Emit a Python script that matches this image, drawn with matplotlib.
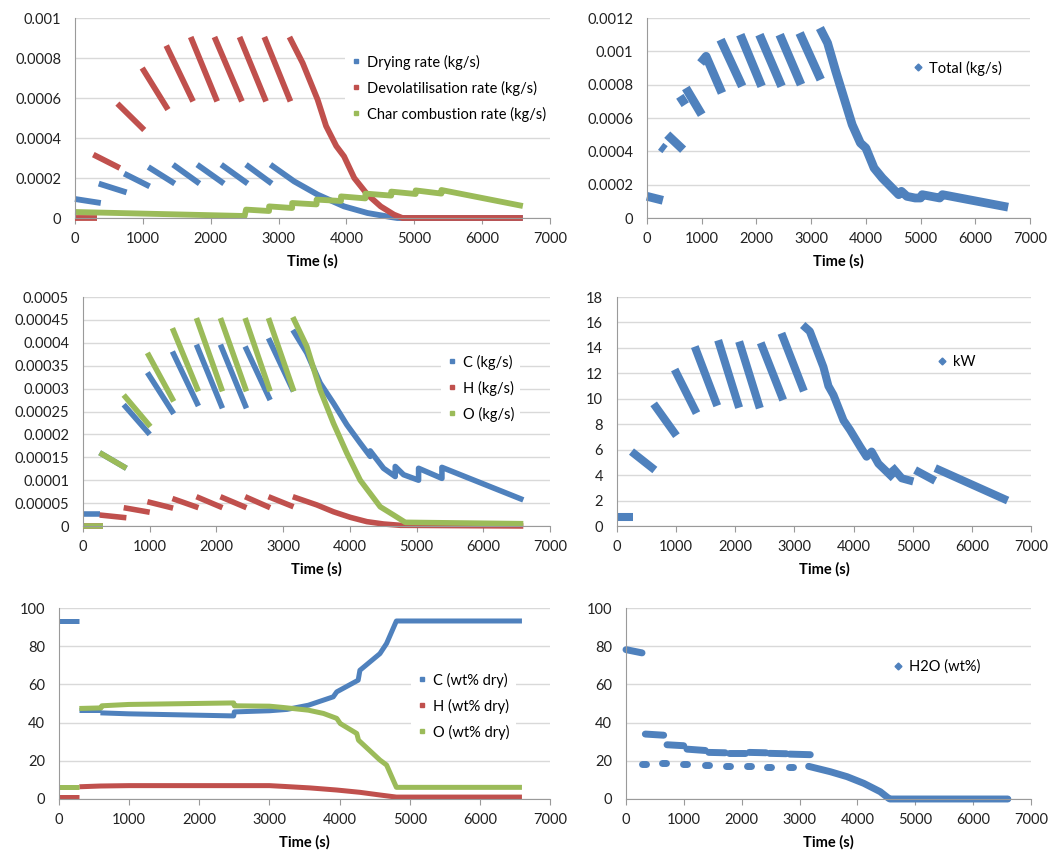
import numpy as np
import matplotlib
matplotlib.use("Agg")
import matplotlib.pyplot as plt
from matplotlib.lines import Line2D
from matplotlib.ticker import FuncFormatter

plt.rcParams['font.family'] = ['Lato', 'DejaVu Sans']

BLUE = '#4F81BD'
RED = '#C0504D'
GREEN = '#9BBB59'

# each series = list of segments, each segment = list of (time s, value)

# panel 1: rates (kg/s)
drying_rate = [
    [(0, 9.5e-5), (380, 7.5e-5)],
    [(350, 1.72e-4), (760, 1.28e-4)],
    [(725, 2.22e-4), (1100, 1.58e-4)],
    [(1080, 2.55e-4), (1470, 1.72e-4)],
    [(1445, 2.67e-4), (1835, 1.72e-4)],
    [(1800, 2.67e-4), (2195, 1.72e-4)],
    [(2155, 2.67e-4), (2545, 1.72e-4)],
    [(2520, 2.67e-4), (2900, 1.72e-4)],
    [(2880, 2.67e-4), (3230, 1.83e-4), (3575, 1.17e-4), (3965, 5.8e-5),
     (4310, 2.5e-5), (4650, 5e-6), (4750, 0), (6600, 0)],
]
devol_rate = [
    [(0, 0), (320, 0)],
    [(270, 3.17e-4), (660, 2.5e-4)],
    [(625, 5.72e-4), (1020, 4.4e-4)],
    [(990, 7.5e-4), (1370, 5.42e-4)],
    [(1345, 8.62e-4), (1740, 5.83e-4)],
    [(1705, 9.05e-4), (2095, 5.83e-4)],
    [(2055, 9.05e-4), (2460, 5.83e-4)],
    [(2425, 9.05e-4), (2815, 5.83e-4)],
    [(2790, 9.05e-4), (3175, 5.83e-4)],
    [(3160, 9.05e-4), (3355, 7.75e-4), (3575, 5.92e-4), (3700, 4.6e-4),
     (3850, 3.6e-4), (3965, 3.08e-4), (4115, 2.0e-4), (4310, 1.17e-4),
     (4505, 5.8e-5), (4700, 1.7e-5), (4825, 0), (6600, 0)],
]
char_rate = [
    [(0, 3.0e-5), (2500, 1.0e-5), (2520, 4.2e-5), (2860, 3.5e-5), (2860, 5.8e-5),
     (3200, 5.0e-5), (3200, 7.5e-5), (3560, 6.8e-5), (3560, 9.2e-5), (3920, 8.5e-5),
     (3920, 1.08e-4), (4280, 9.8e-5), (4280, 1.22e-4), (4660, 1.12e-4),
     (4660, 1.32e-4), (5020, 1.2e-4), (5020, 1.38e-4), (5400, 1.22e-4),
     (5400, 1.4e-4), (6600, 6.0e-5)],
]

# panel 2: total (kg/s)
total_rate = [
    [(0, 1.3e-4), (290, 1.06e-4)],
    [(250, 4.3e-4), (330, 4.1e-4)],
    [(370, 5.0e-4), (660, 4.1e-4)],
    [(600, 7.3e-4), (700, 6.8e-4)],
    [(710, 7.8e-4), (1000, 6.2e-4)],
    [(980, 9.3e-4), (1080, 9.7e-4), (1370, 7.5e-4)],
    [(1345, 1.07e-3), (1740, 7.9e-4)],
    [(1705, 1.10e-3), (2095, 7.9e-4)],
    [(2055, 1.10e-3), (2460, 7.9e-4)],
    [(2425, 1.10e-3), (2815, 8.0e-4)],
    [(2790, 1.11e-3), (3175, 8.3e-4)],
    [(3160, 1.14e-3), (3300, 1.05e-3), (3450, 8.8e-4), (3600, 7.2e-4),
     (3750, 5.6e-4), (3900, 4.5e-4), (4000, 4.2e-4), (4150, 3.0e-4),
     (4300, 2.4e-4), (4450, 1.9e-4), (4600, 1.4e-4), (4650, 1.6e-4),
     (4750, 1.3e-4), (4900, 1.2e-4), (5000, 1.2e-4), (5030, 1.4e-4),
     (5350, 1.2e-4), (5400, 1.4e-4), (6600, 6.5e-5)],
]

# panel 3: element rates (kg/s)
c_rate = [
    [(0, 2.55e-5), (250, 2.55e-5)],
    [(250, 1.6e-4), (650, 1.26e-4)],
    [(610, 2.65e-4), (1000, 2.0e-4)],
    [(965, 3.35e-4), (1360, 2.45e-4)],
    [(1340, 3.81e-4), (1730, 2.62e-4)],
    [(1700, 3.96e-4), (2090, 2.57e-4)],
    [(2060, 3.96e-4), (2450, 2.57e-4)],
    [(2430, 3.92e-4), (2805, 2.75e-4)],
    [(2780, 4.1e-4), (3155, 2.94e-4)],
    [(3145, 4.28e-4), (3355, 3.78e-4), (3555, 3.12e-4), (3755, 2.68e-4),
     (3955, 2.21e-4), (4155, 1.81e-4), (4305, 1.52e-4), (4305, 1.64e-4),
     (4505, 1.26e-4), (4680, 1.08e-4), (4680, 1.3e-4), (4805, 1.12e-4),
     (5030, 1.0e-4), (5030, 1.26e-4), (5380, 1.04e-4), (5380, 1.28e-4),
     (6600, 5.7e-5)],
]
h_rate = [
    [(0, 0), (300, 0)],
    [(250, 2.4e-5), (650, 1.8e-5)],
    [(610, 4.0e-5), (1000, 3.0e-5)],
    [(965, 5.3e-5), (1350, 3.9e-5)],
    [(1340, 6.0e-5), (1730, 4.0e-5)],
    [(1700, 6.4e-5), (2090, 4.0e-5)],
    [(2060, 6.4e-5), (2450, 4.0e-5)],
    [(2430, 6.4e-5), (2805, 4.0e-5)],
    [(2780, 6.4e-5), (3155, 4.2e-5)],
    [(3145, 6.4e-5), (3505, 4.6e-5), (3755, 3.1e-5), (4005, 1.9e-5),
     (4255, 9.5e-6), (4505, 4.4e-6), (4755, 1.5e-6), (6600, 0)],
]
o_rate = [
    [(0, 0), (300, 0)],
    [(250, 1.6e-4), (650, 1.26e-4)],
    [(610, 2.86e-4), (1010, 2.17e-4)],
    [(965, 3.78e-4), (1360, 2.72e-4)],
    [(1340, 4.32e-4), (1730, 2.94e-4)],
    [(1700, 4.54e-4), (2090, 2.94e-4)],
    [(2060, 4.54e-4), (2450, 2.94e-4)],
    [(2430, 4.54e-4), (2805, 2.94e-4)],
    [(2780, 4.54e-4), (3160, 2.94e-4)],
    [(3145, 4.56e-4), (3355, 3.92e-4), (3555, 2.97e-4), (3755, 2.24e-4),
     (3955, 1.59e-4), (4155, 1.0e-4), (4455, 4.2e-5), (4655, 2.4e-5),
     (4830, 8e-6), (5400, 7e-6), (6600, 5e-6)],
]

# panel 4: power (kW)
power_kw = [
    [(0, 0.68), (270, 0.68)],
    [(245, 5.85), (640, 4.4)],
    [(620, 9.6), (1005, 7.1)],
    [(975, 12.3), (1345, 8.87)],
    [(1315, 14.1), (1695, 9.45)],
    [(1710, 14.6), (2065, 9.3)],
    [(2065, 14.5), (2415, 9.26)],
    [(2430, 14.4), (2810, 9.9)],
    [(2780, 15.15), (3160, 10.6)],
    [(3140, 15.8), (3260, 15.3), (3490, 12.5), (3575, 11.0), (3660, 10.3),
     (3830, 8.3), (3940, 7.55), (4110, 6.25), (4220, 5.45), (4305, 5.85),
     (4420, 4.9), (4675, 3.75)],
    [(4645, 4.67), (4815, 3.75), (5010, 3.5)],
    [(5040, 4.4), (5380, 3.55)],
    [(5380, 4.55), (6605, 2.0)],
]

# panel 5: composition (wt% dry)
c_wt = [
    [(0, 93.2), (290, 93.2)],
    [(290, 46.5), (600, 46.5)],
    [(590, 45.1), (990, 44.6), (2490, 43.5), (2500, 45.6), (3000, 46.2),
     (3250, 46.9), (3555, 49.1), (3910, 53.5), (3960, 56.1), (4265, 62.2),
     (4290, 67.4), (4575, 76.1), (4670, 81.4), (4810, 93.2), (6600, 93.2)],
]
h_wt = [
    [(0, 1.2), (290, 1.2)],
    [(290, 6.4), (590, 6.8), (1000, 7.0), (3000, 7.0), (3200, 6.6),
     (3580, 5.8), (3960, 4.7), (4290, 3.5), (4575, 2.1), (4810, 1.0), (6600, 1.0)],
]
o_wt = [
    [(0, 6.1), (290, 6.1)],
    [(290, 47.4), (600, 47.7), (610, 48.8), (990, 49.5), (2490, 50.3),
     (2500, 48.8), (3000, 48.6), (3200, 47.9), (3555, 46.5), (3770, 44.8),
     (3960, 42.2), (4010, 39.5), (4245, 34.3), (4270, 30.8), (4575, 20.4),
     (4670, 17.8), (4810, 6.1), (6600, 6.1)],
]

# panel 6: moisture (wt%)
h2o_wt = [
    [(0, 78.2), (277, 76.5)],
    [(334, 34.0), (651, 33.4)],
    [(709, 28.4), (997, 27.9)],
    [(1054, 26.1), (1371, 25.4)],
    [(1430, 24.4), (1715, 24.2)],
    [(1775, 24.2), (2060, 24.2)],
    [(2130, 24.4), (2420, 24.2)],
    [(2480, 23.9), (2770, 23.7)],
    [(2830, 23.5), (3185, 23.2)],
    [(270, 18.3), (340, 18.3)],
    [(627, 18.6), (697, 18.6)],
    [(979, 18.3), (1049, 18.3)],
    [(1365, 17.6), (1435, 17.6)],
    [(1728, 17.2), (1798, 17.2)],
    [(2085, 17.2), (2155, 17.2)],
    [(2436, 16.9), (2506, 16.9)],
    [(2817, 16.6), (2887, 16.6)],
    [(3157, 17.1), (3530, 14.3), (3820, 11.7), (4110, 8.2), (4395, 3.8),
     (4540, 0.35), (4560, 0), (6600, 0)],
]


def yfmt(v, pos):
    if abs(v) < 1e-12:
        return '0'
    return f'{v:.6f}'.rstrip('0').rstrip('.')


def style(ax, ymax, ystep):
    ax.set_xlim(0, 7000)
    ax.set_ylim(0, ymax)
    ax.set_xticks(range(0, 7001, 1000))
    ax.set_yticks(np.arange(0, ymax + ystep / 2, ystep))
    ax.yaxis.set_major_formatter(FuncFormatter(yfmt))
    ax.grid(axis='y', color='#D9D9D9', lw=1)
    ax.set_axisbelow(True)
    for s in ['top', 'right']:
        ax.spines[s].set_visible(False)
    for s in ['left', 'bottom']:
        ax.spines[s].set_color('#9A9A9A')
    ax.tick_params(axis='x', direction='out', length=4, color='#9A9A9A',
                   pad=6, labelsize=10.5, labelcolor='#222222')
    ax.tick_params(axis='y', length=0, pad=10, labelsize=10.5, labelcolor='#222222')
    ax.set_xlabel('Time (s)', fontweight='bold', fontsize=10.5, labelpad=6)


def draw(ax, segments, color, lw, cap='butt'):
    for seg in segments:
        t = [p[0] for p in seg]
        v = [p[1] for p in seg]
        ax.plot(t, v, color=color, lw=lw, solid_capstyle=cap,
                solid_joinstyle='round', clip_on=False)


def legend(ax, fig, labels, colors, marker, x_px, y_px, ms, boxed=True):
    handles = [Line2D([], [], color=c, marker=marker, ms=ms, ls='none') for c in colors]
    fig_w, fig_h = fig.get_size_inches() * fig.dpi
    leg = ax.legend(handles, labels, loc='center left',
                    bbox_to_anchor=(x_px / fig_w, 1 - y_px / fig_h),
                    bbox_transform=fig.transFigure, fontsize=10.5,
                    handlelength=0.6, handletextpad=0.5, labelspacing=0.75,
                    borderpad=0.4, frameon=boxed, fancybox=False)
    if boxed:
        leg.get_frame().set_facecolor('white')
        leg.get_frame().set_edgecolor('none')
        leg.get_frame().set_alpha(1)


fig = plt.figure(figsize=(10.59, 8.56), dpi=100)
W, H = 1059, 856


def add_axes(left, right, top, bottom):
    return fig.add_axes([left / W, 1 - bottom / H, (right - left) / W, (bottom - top) / H])


ax1 = add_axes(75, 550, 18, 218)
ax2 = add_axes(647, 1030, 18, 218)
ax3 = add_axes(83, 550, 297, 526)
ax4 = add_axes(617, 1031, 297, 526)
ax5 = add_axes(59, 550, 608, 799)
ax6 = add_axes(626, 1031, 608, 799)

style(ax1, 0.001, 0.0002)
draw(ax1, drying_rate, BLUE, 4.2)
draw(ax1, devol_rate, RED, 4.2)
draw(ax1, char_rate, GREEN, 4.2)
legend(ax1, fig, ['Drying rate (kg/s)', 'Devolatilisation rate (kg/s)',
                  'Char combustion rate (kg/s)'], [BLUE, RED, GREEN], 's', 338, 88, 3)

style(ax2, 0.0012, 0.0002)
draw(ax2, total_rate, BLUE, 6.3)
legend(ax2, fig, ['Total (kg/s)'], [BLUE], 'D', 900, 68, 3.5, boxed=False)

style(ax3, 0.0005, 0.00005)
draw(ax3, c_rate, BLUE, 4.0)
draw(ax3, h_rate, RED, 4.0)
draw(ax3, o_rate, GREEN, 4.0)
legend(ax3, fig, ['C (kg/s)', 'H (kg/s)', 'O (kg/s)'], [BLUE, RED, GREEN], 's', 434, 388, 3)

style(ax4, 18, 2)
draw(ax4, power_kw, BLUE, 5.8)
legend(ax4, fig, ['kW'], [BLUE], 'D', 924, 362, 3.5, boxed=False)

style(ax5, 100, 20)
draw(ax5, c_wt, BLUE, 3.6)
draw(ax5, h_wt, RED, 3.6)
draw(ax5, o_wt, GREEN, 3.6)
legend(ax5, fig, ['C (wt% dry)', 'H (wt% dry)', 'O (wt% dry)'], [BLUE, RED, GREEN], 's', 404, 706, 3)

style(ax6, 100, 20)
draw(ax6, h2o_wt, BLUE, 5.0, cap='round')
legend(ax6, fig, ['H2O (wt%)'], [BLUE], 'D', 880, 667, 3.5, boxed=False)

fig.savefig('out.png', dpi=100, facecolor='white')
